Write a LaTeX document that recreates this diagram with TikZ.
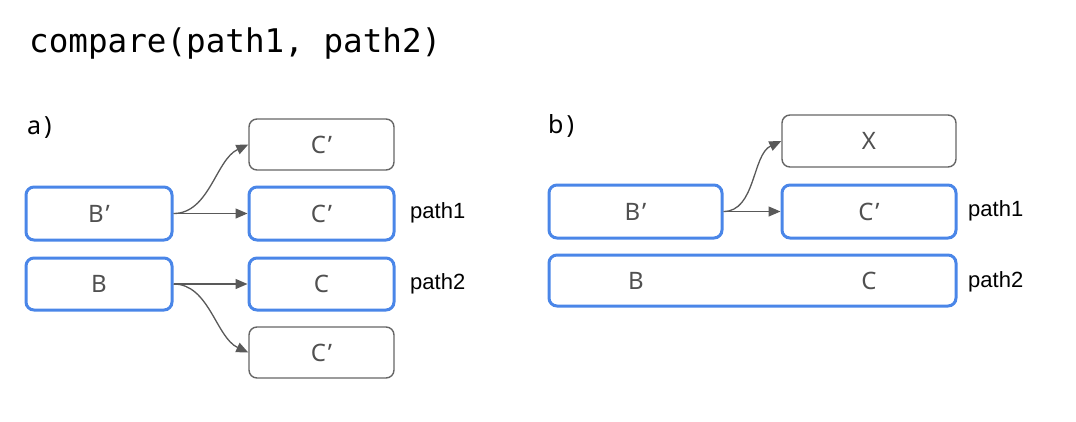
\documentclass[tikz,border=0pt]{standalone}
\usepackage{fontspec}
\setmainfont{Noto Sans}
\newfontfamily\monofam{DejaVu Sans Mono}
\newfontfamily\arialfam{Liberation Sans}
\usetikzlibrary{arrows.meta}
\definecolor{boxblue}{HTML}{4A86E8}
\definecolor{boxgray}{HTML}{666666}
\definecolor{txtgray}{HTML}{505050}
\definecolor{arrgray}{HTML}{595959}
\tikzset{
  bluebox/.style={draw=boxblue, line width=3pt, rounded corners=8pt, inner sep=0pt,
     text=txtgray, font=\fontsize{24}{24}\selectfont},
  graybox/.style={draw=boxgray, line width=1.4pt, rounded corners=8pt, inner sep=0pt,
     text=txtgray, font=\fontsize{24}{24}\selectfont},
  boxtext/.style={inner sep=0pt, text=txtgray, font=\fontsize{24}{24}\selectfont},
  pathlab/.style={anchor=west, inner sep=0pt, font=\arialfam\fontsize{22}{22}\selectfont},
  partlab/.style={anchor=west, inner sep=0pt, font=\fontsize{25}{25}\selectfont},
  conn/.style={draw=arrgray, line width=1.3pt, -{Triangle[length=12pt,width=10pt]}}
}
\begin{document}
\begin{tikzpicture}[x=1pt,y=-1pt]
\useasboundingbox (0,0) rectangle (1076,421);
\node[anchor=west, inner sep=0pt, font=\monofam\fontsize{32.6}{32.6}\selectfont] (title) at (29,44) {compare(path1, path2)};

% a)
\node[partlab] (la) at (27,128) {a\kern3pt)};
\node[bluebox, minimum width=146pt, minimum height=53pt] (aBp) at (99,213.5) {B\kern2pt’};
\node[graybox, minimum width=145pt, minimum height=51pt] (aC1) at (321.5,144.5) {C\kern2pt’};
\node[bluebox, minimum width=145pt, minimum height=53pt] (aC2) at (321.5,213.5) {C\kern2pt’};
\node[bluebox, minimum width=146pt, minimum height=52pt] (aB) at (99,284) {B};
\node[bluebox, minimum width=145pt, minimum height=52pt] (aC3) at (321.5,284) {C};
\node[graybox, minimum width=145pt, minimum height=51pt] (aC4) at (321.5,352.5) {C\kern2pt’};
\node[pathlab] (ap1) at (410,213) {path1};
\node[pathlab] (ap2) at (410,284) {path2};

\draw[conn] (aBp.east) -- (aC2.west);
\draw[conn] (aBp.east) to[out=0,in=205,looseness=0.9] (aC1.west);
\draw[conn] (aB.east) -- (aC3.west);
\draw[conn] (aB.east) to[out=0,in=155,looseness=0.9] (aC4.west);

% b)
\node[partlab] (lb) at (548,126) {b\kern3pt)};
\node[graybox, minimum width=174pt, minimum height=52pt] (bX) at (869,141) {X};
\node[bluebox, minimum width=173pt, minimum height=53pt] (bBp) at (635.5,211.5) {B\kern2pt’};
\node[bluebox, minimum width=174pt, minimum height=53pt] (bC) at (869,211.5) {C\kern2pt’};
\node[bluebox, minimum width=407pt, minimum height=51pt] (bP) at (752.5,280.5) {};
\node[boxtext] (bPB) at (636,281) {B};
\node[boxtext] (bPC) at (869,281) {C};
\node[pathlab] (bp1) at (968,211) {path1};
\node[pathlab] (bp2) at (968,282) {path2};

\draw[conn] (bBp.east) -- (bC.west);
\draw[conn] (bBp.east) to[out=0,in=205,looseness=0.9] (bX.west);
\end{tikzpicture}
\end{document}
